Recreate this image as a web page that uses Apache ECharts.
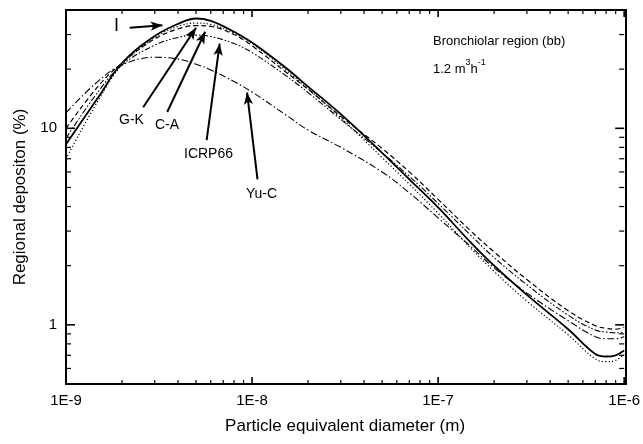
<!DOCTYPE html>
<html>
<head>
<meta charset="utf-8">
<script src="https://cdn.jsdelivr.net/npm/echarts@6/dist/echarts.min.js"></script>
<style>
html,body{margin:0;padding:0;background:#fff;}
#c{width:643px;height:444px;}
</style>
</head>
<body>
<div id="c"></div>
<script>
// ---- data ----
var diameters    = [1e-9, 1.5e-9, 2e-9, 3e-9, 4e-9, 5e-9, 6e-9, 8e-9, 1e-8, 1.5e-8, 2e-8, 3e-8, 5e-8, 7e-8, 1e-7, 1.5e-7, 2e-7, 3e-7, 5e-7, 7e-7, 8e-7, 9e-7, 1e-6];
var seriesI      = [8.3, 14.5, 21.5, 29.5, 34, 36.2, 35.2, 31, 27.3, 20.5, 16.3, 11.8, 7.5, 5.5, 3.96, 2.62, 2.0, 1.42, 0.95, 0.71, 0.69, 0.70, 0.74];
var seriesGK     = [7.0, 14, 21, 29, 33, 34.3, 33.8, 30.5, 27, 20, 15.9, 11.3, 7.1, 5.2, 3.7, 2.45, 1.87, 1.32, 0.89, 0.67, 0.65, 0.66, 0.71];
var seriesCA     = [10, 16.5, 21.5, 28.5, 32, 33.3, 33, 30, 26.3, 19.5, 15.8, 11.5, 7.9, 6.0, 4.35, 3.0, 2.35, 1.7, 1.18, 0.99, 0.96, 0.95, 0.97];
var seriesICRP66 = [8.9, 15.5, 21, 26.5, 29, 29.8, 29.3, 27, 24.3, 18.7, 15.2, 11.1, 7.5, 5.7, 4.15, 2.85, 2.2, 1.6, 1.12, 0.94, 0.92, 0.91, 0.92];
var seriesYuC    = [12, 17.5, 21, 23, 22.5, 21.2, 19.8, 17.3, 15.3, 11.8, 9.8, 8.0, 6.0, 4.7, 3.5, 2.5, 1.95, 1.45, 1.05, 0.87, 0.85, 0.85, 0.87];

var xDecades = [1e-9, 1e-8, 1e-7, 1e-6];
var yDecades = [1, 10];
var minorMult = [2, 3, 4, 5, 6, 7, 8, 9];
var xMin = 1e-9, xMax = 1e-6, yMin = 0.5, yMax = 40;

// tick values
var xMinorTicks = [];
[1e-9, 1e-8, 1e-7].forEach(function (d) { minorMult.forEach(function (m) { xMinorTicks.push(m * d); }); });
var yMinorTicks = [];
[0.1, 1, 10].forEach(function (d) { minorMult.forEach(function (m) { var v = m * d; if (v > yMin && v < yMax) yMinorTicks.push(v); }); });

function toPairs(vals) { return diameters.map(function (d, i) { return [d, vals[i]]; }); }
function fmtE(v) { var e = Math.round(Math.log10(v)); return Math.abs(Math.log10(v) - e) < 1e-6 ? '1E' + e : ''; }

var chart = echarts.init(document.getElementById('c'), null, { renderer: 'canvas' });
var FONT = 'Liberation Sans, Arial, Helvetica, sans-serif';

function tickSeries(values, dir, len, w) {
  return {
    type: 'custom',
    silent: true,
    z: 5,
    data: values.map(function (v) { return [v]; }),
    renderItem: function (params, api) {
      var cs = params.coordSys;
      var v = api.value(0);
      var lines = [];
      if (dir === 'x') {
        var px = api.coord([v, yMin])[0];
        lines.push({ type: 'line', shape: { x1: px, y1: cs.y + cs.height, x2: px, y2: cs.y + cs.height - len } });
        lines.push({ type: 'line', shape: { x1: px, y1: cs.y, x2: px, y2: cs.y + len } });
      } else {
        var py = api.coord([xMin, v])[1];
        lines.push({ type: 'line', shape: { x1: cs.x, y1: py, x2: cs.x + len, y2: py } });
        lines.push({ type: 'line', shape: { x1: cs.x + cs.width, y1: py, x2: cs.x + cs.width - len, y2: py } });
      }
      lines.forEach(function (l) { l.style = { stroke: '#000', lineWidth: w }; });
      return { type: 'group', children: lines };
    }
  };
}

function curve(name, vals, dash, width) {
  return {
    name: name, type: 'line', data: toPairs(vals), smooth: 0.4, symbol: 'none',
    lineStyle: { color: '#000', width: width, type: dash }, z: 3
  };
}

var arrowStyle = { color: '#000', width: 2, type: 'solid' };
function arrow(from, to) {
  return [{ coord: from, symbol: 'none' }, { coord: to, symbol: 'arrow', symbolSize: [7, 12] }];
}

var option = {
  backgroundColor: '#fff',
  animation: false,
  grid: { left: 66, right: 17, top: 10, bottom: 60, containLabel: false },
  xAxis: {
    type: 'log', logBase: 10, min: xMin, max: xMax,
    name: 'Particle equivalent diameter (m)', nameLocation: 'middle', nameGap: 34,
    nameTextStyle: { fontFamily: FONT, fontSize: 17, color: '#000' },
    axisLine: { show: true, lineStyle: { color: '#000', width: 2 } },
    axisTick: { show: false },
    axisLabel: { formatter: fmtE, fontFamily: FONT, fontSize: 15, color: '#000', margin: 9, showMinLabel: true, showMaxLabel: true },
    splitLine: { show: false }
  },
  yAxis: {
    type: 'log', logBase: 10, min: yMin, max: yMax,
    name: 'Regional depositon (%)', nameLocation: 'middle', nameGap: 37,
    nameTextStyle: { fontFamily: FONT, fontSize: 17, color: '#000' },
    axisLine: { show: true, lineStyle: { color: '#000', width: 2 } },
    axisTick: { show: false },
    axisLabel: { formatter: function (v) { var e = Math.log10(v); return Math.abs(e - Math.round(e)) < 1e-6 ? String(Math.round(v)) : ''; }, fontFamily: FONT, fontSize: 15, color: '#000', margin: 9 },
    splitLine: { show: false }
  },
  graphic: [
    { type: 'rect', shape: { x: 66, y: 10, width: 560, height: 374 }, style: { fill: 'none', stroke: '#000', lineWidth: 2 }, z: 10, silent: true },
    { type: 'text', left: 433, top: 35, style: { text: 'Bronchiolar region (bb)', font: '13px ' + FONT, fill: '#000' }, z: 10 },
    { type: 'text', left: 433, top: 58, style: {
        text: '{a|1.2 m}{s|3}{a|h}{s|-1}',
        rich: { a: { fontSize: 13, fontFamily: FONT, fill: '#000', lineHeight: 18, verticalAlign: 'bottom' },
                s: { fontSize: 9, fontFamily: FONT, fill: '#000', lineHeight: 18, verticalAlign: 'top' } } }, z: 10 },
    { type: 'text', left: 114, top: 17, style: { text: 'I', font: '18px ' + FONT, fill: '#000' }, z: 10 },
    { type: 'text', left: 119, top: 113, style: { text: 'G-K', font: '14px ' + FONT, fill: '#000' }, z: 10 },
    { type: 'text', left: 155, top: 118, style: { text: 'C-A', font: '14px ' + FONT, fill: '#000' }, z: 10 },
    { type: 'text', left: 184, top: 147, style: { text: 'ICRP66', font: '14px ' + FONT, fill: '#000' }, z: 10 },
    { type: 'text', left: 246, top: 187, style: { text: 'Yu-C', font: '14px ' + FONT, fill: '#000' }, z: 10 }
  ],
  series: [
    curve('I', seriesI, 'solid', 1.8),
    curve('G-K', seriesGK, [1.2, 2.2], 1.2),
    curve('C-A', seriesCA, [5, 3], 1.2),
    curve('ICRP66', seriesICRP66, [6, 2, 1.5, 2, 1.5, 2], 1.1),
    Object.assign(curve('Yu-C', seriesYuC, [7, 2.5, 1.5, 2.5], 1.1), {
      markLine: {
        silent: true, animation: false, symbol: ['none', 'arrow'], symbolSize: [7, 12],
        lineStyle: arrowStyle, label: { show: false },
        data: [
          arrow([2.2e-9, 32.5], [3.3e-9, 33.5]),
          arrow([2.6e-9, 12.8], [5.0e-9, 32.5]),
          arrow([3.5e-9, 12.1], [5.6e-9, 31.0]),
          arrow([5.7e-9, 8.7], [6.7e-9, 27.0]),
          arrow([1.07e-8, 5.5], [9.4e-9, 15.2])
        ]
      }
    }),
    tickSeries(xMinorTicks, 'x', 4, 1.2),
    tickSeries(xDecades, 'x', 7, 1.6),
    tickSeries(yMinorTicks, 'y', 5, 1.2),
    tickSeries(yDecades, 'y', 9, 1.6)
  ]
};
chart.setOption(option);
</script>
</body>
</html>
